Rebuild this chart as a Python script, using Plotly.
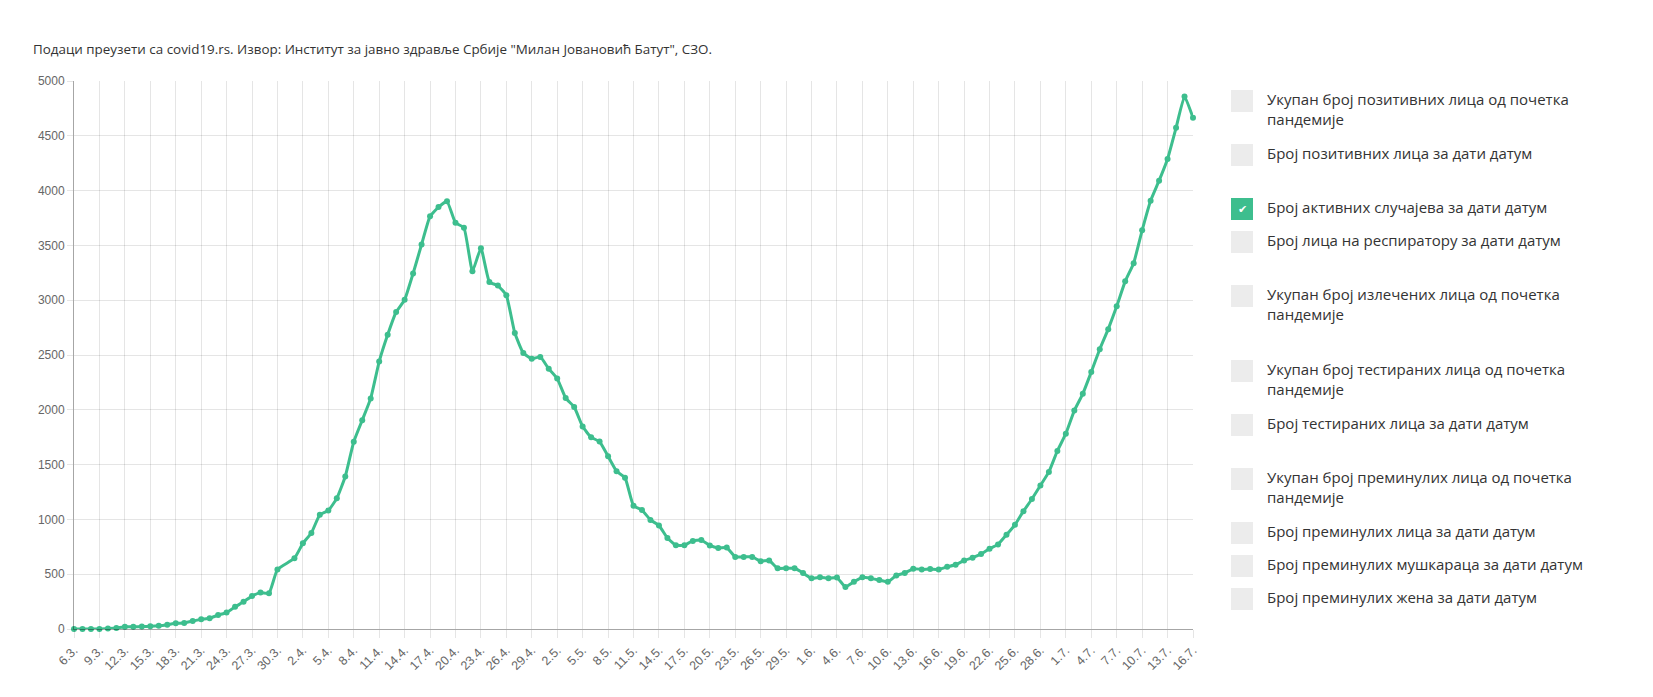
import pandas as pd
import plotly.graph_objects as go

# ---------------- data ----------------
start_date = "2020-03-06"
end_date = "2020-07-16"
missing_dates = ["2020-03-31"]

active_cases = [
    1, 1, 1, 1, 5, 10, 20, 20, 22, 24, 29, 39, 52, 55, 72, 88, 98, 127, 150, 202,
    248, 300, 332, 326, 544,
    645, 782, 876, 1042, 1081, 1192, 1391, 1708, 1905, 2104, 2440, 2684, 2892, 3003,
    3244, 3508, 3765, 3850, 3902, 3706, 3661, 3264, 3475, 3166, 3133, 3045, 2700, 2518,
    2466, 2482, 2374, 2286, 2107, 2026, 1847, 1749, 1710, 1576, 1440, 1381, 1124, 1085,
    995, 945, 830, 765, 765, 804, 811, 762, 739, 743, 658, 658, 658, 619, 625, 554, 554,
    554, 511, 462, 472, 462, 469, 384, 430, 472, 462, 446, 430, 489, 511, 550, 544, 547,
    544, 567, 586, 625, 651, 684, 733, 772, 860, 951, 1075, 1186, 1309, 1433, 1625, 1782,
    1993, 2146, 2345, 2553, 2736, 2944, 3172, 3338, 3638, 3908, 4091, 4289, 4573, 4859,
    4664,
]

legend_labels = [
    "Укупан број позитивних лица од почетка<br>пандемије",
    "Број позитивних лица за дати датум",
    "Број активних случајева за дати датум",
    "Број лица на респиратору за дати датум",
    "Укупан број излечених лица од почетка<br>пандемије",
    "Укупан број тестираних лица од почетка<br>пандемије",
    "Број тестираних лица за дати датум",
    "Укупан број преминулих лица од почетка<br>пандемије",
    "Број преминулих лица за дати датум",
    "Број преминулих мушкараца за дати датум",
    "Број преминулих жена за дати датум",
]
legend_checked = [False, False, True, False, False, False, False, False, False, False, False]
legend_box_centers_px = [101, 155, 209, 242, 296, 371, 425, 479, 533, 566, 599]

source_text = ("Подаци преузети са covid19.rs. Извор: Институт за јавно здравље Србије "
               "\"Милан Јовановић Батут\", СЗО.")

# ---------------- build ----------------
all_dates = pd.date_range(start_date, end_date, freq="D")
dates = [d for d in all_dates if d.strftime("%Y-%m-%d") not in missing_dates]

GREEN = "#3dbe8e"
W, H = 1653, 697
L, R, T, B = 74, 1193, 81, 629

fig = go.Figure()
fig.add_trace(go.Scatter(
    x=dates, y=active_cases, mode="lines+markers",
    line=dict(color=GREEN, width=3, shape="spline", smoothing=0.4),
    marker=dict(color=GREEN, size=6),
    cliponaxis=False,
    hoverinfo="x+y", showlegend=False,
))

def px2x(px):
    return (px - L) / (R - L)

def py2y(py):
    return (B - py) / (B - T)

shapes = []
annotations = []
for lab, chk, cy in zip(legend_labels, legend_checked, legend_box_centers_px):
    shapes.append(dict(
        type="rect", xref="paper", yref="paper",
        x0=px2x(1231), x1=px2x(1253), y0=py2y(cy + 11), y1=py2y(cy - 11),
        fillcolor=GREEN if chk else "#ececec", line=dict(width=0), layer="above",
    ))
    if chk:
        annotations.append(dict(
            xref="paper", yref="paper", x=px2x(1242), y=py2y(cy),
            text="✔", showarrow=False, xanchor="center", yanchor="middle",
            font=dict(color="white", size=11, family="DejaVu Sans"),
        ))
    annotations.append(dict(
        xref="paper", yref="paper", x=px2x(1265), y=py2y(cy - 14),
        text=lab, showarrow=False, xanchor="left", yanchor="top", align="left",
        font=dict(color="#333333", size=15, family="Open Sans"),
    ))

annotations.append(dict(
    xref="paper", yref="paper", x=px2x(31), y=py2y(49),
    text=source_text, showarrow=False, xanchor="left", yanchor="middle",
    font=dict(color="#333333", size=13.4, family="Open Sans"),
))

fig.update_layout(
    width=W, height=H,
    margin=dict(l=L, r=W - R, t=T, b=H - B, pad=0),
    paper_bgcolor="white", plot_bgcolor="white",
    shapes=shapes, annotations=annotations,
    font=dict(family="Liberation Sans, Arial, sans-serif", color="#666666", size=12),
    xaxis=dict(
        type="date",
        range=[start_date, end_date],
        tick0=start_date, dtick=3 * 86400000,
        tickformat="%-d.%-m.", tickangle=-45,
        showgrid=True, gridcolor="rgba(0,0,0,0.1)", gridwidth=1,
        ticks="outside", ticklen=8, tickcolor="rgba(0,0,0,0.1)",
        showline=True, linecolor="rgba(0,0,0,0.35)", linewidth=1,
        zeroline=False, mirror=False,
        tickfont=dict(size=12.5, color="#666666"),
    ),
    yaxis=dict(
        range=[0, 5000], dtick=500, tick0=0,
        showgrid=True, gridcolor="rgba(0,0,0,0.1)", gridwidth=1,
        ticks="outside", ticklen=6, tickcolor="rgba(0,0,0,0.1)",
        showline=True, linecolor="rgba(0,0,0,0.35)", linewidth=1,
        zeroline=False,
        tickfont=dict(size=12, color="#666666"),
    ),
)

fig.write_html("out.html")
